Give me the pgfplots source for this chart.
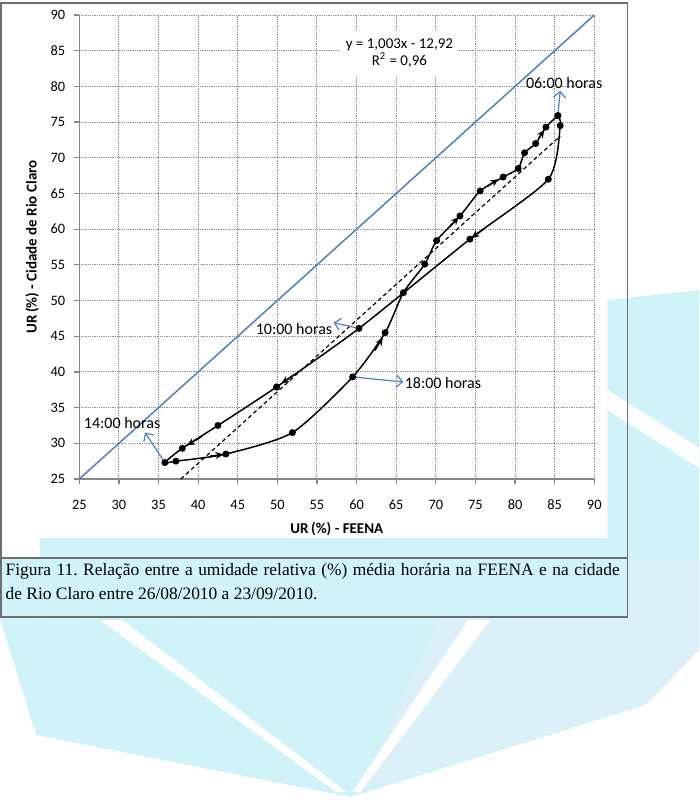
\documentclass[border=0pt]{standalone}
\usepackage{fontspec}
\setmainfont{Carlito}
\newfontfamily\timesfont{Liberation Serif}
\usepackage{pgfplots}
\pgfplotsset{compat=1.18}
\usetikzlibrary{arrows.meta}
\definecolor{xlblue}{RGB}{79,129,189}
\definecolor{wm}{RGB}{208,243,250}
\definecolor{wm2}{RGB}{220,240,250}
\definecolor{gridc}{RGB}{140,140,140}
\definecolor{axc}{RGB}{134,134,134}
\definecolor{framec}{RGB}{110,110,110}
\frenchspacing
\begin{document}
\begin{tikzpicture}
\begin{scope}[x=0.5pt,y=-0.5pt]
\useasboundingbox (0,0) rectangle (699,800);
% watermark (background)
\fill[wm] (0,538) -- (607,538) -- (607,300) -- (699,290) -- (699,650) -- (645,705) -- (350,797) -- (36,735) -- (0,620) -- cycle;
\fill[wm2] (440,617) -- (627,617) -- (627,560) -- (699,560) -- (699,650) -- (645,705) -- (360,790) -- cycle;
\fill[white] (100,620) -- (122,620) -- (346,792) -- (336,792) -- cycle;
\fill[white] (468,620) -- (490,620) -- (360,792) -- (352,792) -- cycle;
\fill[white] (607,390) -- (699,448) -- (699,468) -- (607,410) -- cycle;
\fill[white] (0,538) rectangle (40,558);
% chart white area
\fill[white] (0,3) rectangle (607,538);
\coordinate (O) at (79,479);
\end{scope}
\begin{axis}[
  at={(O)}, anchor=south west,
  scale only axis, width=257.5pt, height=232pt,
  xmin=25, xmax=90, ymin=25, ymax=90,
  xtick={25,30,...,90}, ytick={25,30,...,90},
  grid=major, major grid style={gridc, dash pattern=on 0.4pt off 0.5pt, line width=0.5pt},
  axis x line*=bottom, axis y line*=left,
  axis line style={axc, line width=0.7pt},
  tick style={axc, line width=0.6pt, solid}, tick align=outside, major tick length=2.5pt,
  ticklabel style={font=\fontsize{7.2}{8}\selectfont, text=black},
  /pgf/number format/assume math mode=true,
  xticklabel style={yshift=-4.5pt},
  yticklabel style={xshift=-1pt},
  every axis x label/.style={at={(rel axis cs:0.5,-0.1078)}, anchor=center},
  every axis y label/.style={at={(rel axis cs:-0.0913,0.5)}, rotate=90, anchor=center},
  label style={font=\bfseries\fontsize{7.5}{9}\selectfont},
  xlabel={UR\,(\%) - FEENA},
  ylabel={UR\,(\%) - Cidade de Rio Claro},
  clip=false,
]
% 1:1 line
\addplot[xlblue, line width=0.75pt] coordinates {(25,25) (90,90)};
% trend line y = 1.003x - 12.92
\addplot[black, dash pattern=on 2pt off 1.5pt, line width=0.6pt] coordinates {(37.81,25) (85.7,73.04)};
% hourly loop
\addplot[black, line width=0.75pt, smooth, tension=0.4, mark=*, mark size=1.35pt, mark options={solid}] coordinates {
(85.4,75.9) (85.7,74.5) (84.2,67.0) (74.3,58.6) (60.3,46.1) (49.9,37.9)
(42.5,32.5) (38.0,29.3) (35.8,27.3) (37.2,27.5) (43.5,28.5) (51.9,31.5)
(59.5,39.3) (63.6,45.5) (65.9,51.1) (68.6,55.1) (70.1,58.4) (73.05,61.85)
(75.6,65.35) (78.5,67.3) (80.4,68.5) (81.2,70.7) (82.6,72.0) (83.9,74.3)
(85.4,75.9)};
% direction arrowheads
\addplot[black, line width=0.75pt, -{Stealth[length=4pt,width=3.5pt]}] coordinates {(52.0,39.5) (50.5,38.4)};
\addplot[black, line width=0.75pt, -{Stealth[length=4pt,width=3.5pt]}] coordinates {(40.5,31.0) (38.6,29.7)};
\addplot[black, line width=0.75pt, -{Stealth[length=4pt,width=3.5pt]}] coordinates {(41.5,28.2) (43.2,28.45)};
\addplot[black, line width=0.75pt, -{Stealth[length=4pt,width=3.5pt]}] coordinates {(62.3,43.0) (63.3,44.8)};
\addplot[black, line width=0.75pt, -{Stealth[length=4pt,width=3.5pt]}] coordinates {(76.0,60.0) (74.5,58.75)};
\addplot[black, line width=0.75pt, -{Stealth[length=4pt,width=3.5pt]}] coordinates {(71.8,60.4) (72.9,61.7)};
\addplot[black, line width=0.75pt, -{Stealth[length=4pt,width=3.5pt]}] coordinates {(76.5,66.0) (77.9,67.0)};
\addplot[black, line width=0.75pt, -{Stealth[length=4pt,width=3.5pt]}] coordinates {(83.0,72.8) (83.7,73.9)};
% callout arrows
\draw[xlblue, line width=0.6pt, -{Straight Barb[length=3pt,width=6pt]}] (axis cs:85.4,75.9) -- (axis cs:85.7,79.4);
\draw[xlblue, line width=0.6pt, -{Straight Barb[length=3pt,width=6pt]}] (axis cs:60.3,46.1) -- (axis cs:57.1,46.9);
\draw[xlblue, line width=0.6pt, -{Straight Barb[length=3pt,width=6pt]}] (axis cs:35.8,27.3) -- (axis cs:33.3,31.5);
\draw[xlblue, line width=0.6pt, -{Straight Barb[length=3pt,width=6pt]}] (axis cs:59.5,39.3) -- (axis cs:65.9,38.6);
% labels
\node[font=\fontsize{8}{9}\selectfont, inner sep=0pt] at (axis cs:86.2,80.5) {06:00 horas};
\node[font=\fontsize{8}{9}\selectfont, inner sep=0pt] at (axis cs:52.1,46.0) {10:00 horas};
\node[font=\fontsize{8}{9}\selectfont, inner sep=0pt] at (axis cs:30.4,32.9) {14:00 horas};
\node[font=\fontsize{8}{9}\selectfont, inner sep=0pt] at (axis cs:70.9,38.5) {18:00 horas};
\node[fill=white, align=center, font=\fontsize{7.5}{8.5}\selectfont, inner xsep=3pt, inner ysep=4pt] at (axis cs:65.4,84.6) {y = 1,003x - 12,92\\R\textsuperscript{2} = 0,96};
\end{axis}
\begin{scope}[x=0.5pt,y=-0.5pt]
\draw[framec, line width=0.8pt] (0.5,3) rectangle (627,558);
\draw[framec, line width=0.8pt] (0.5,558) rectangle (627,617);
\node[anchor=base west, inner sep=0pt, font=\timesfont\fontsize{8.7}{10}\selectfont] at (5,575) {\makebox[307pt][s]{Figura 11. Relação entre a umidade relativa (\%) média horária na FEENA e na cidade}};
\node[anchor=base west, inner sep=0pt, font=\timesfont\fontsize{8.7}{10}\selectfont] at (5,599) {de Rio Claro entre 26/08/2010 a 23/09/2010.};
\end{scope}
\end{tikzpicture}
\end{document}
